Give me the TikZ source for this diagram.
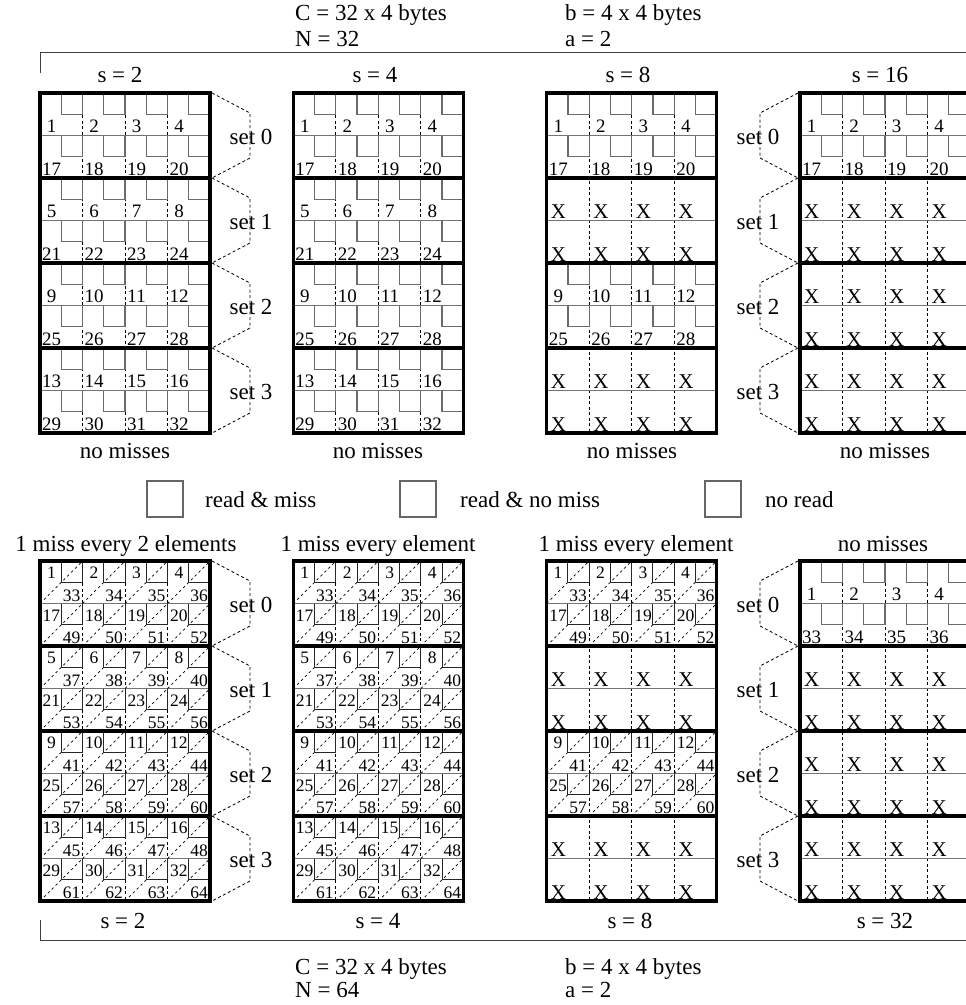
\documentclass[tikz,border=0pt]{standalone}
\usepackage{fontspec}
\setmainfont{Liberation Serif}
\newcount\nid
\newcommand\hitcell[3]{%
  \draw[sq] ({#1+21.25},#2) -- ({#1+21.25},{#2+21.25}) -- ({#1+42.5},{#2+21.25}) -- ({#1+42.5},#2);
  \global\advance\nid by 1
  \edef\nn{c\the\nid}%
  \node[num,anchor=base] (\nn) at ({#1+11.6},{#2+39.5}) {#3};}
\newcommand\hitset[4]{%
  \foreach \k in {0,...,3}{%
    \pgfmathsetmacro\hX{#1+42.5*\k}%
    \pgfmathtruncatemacro\hA{#3+\k}%
    \pgfmathtruncatemacro\hB{#4+\k}%
    \pgfmathsetmacro\hY{#2+42.5}%
    \hitcell{\hX}{#2}{\hA}%
    \hitcell{\hX}{\hY}{\hB}%
  }}
\newcommand\xnode[2]{%
  \global\advance\nid by 1
  \edef\nn{c\the\nid}%
  \node[xl,anchor=base west] (\nn) at (#1,#2) {X};}
\newcommand\xset[2]{%
  \foreach \k in {0,...,3}{%
    \pgfmathsetmacro\xX{#1+42.5*\k+4}%
    \pgfmathsetmacro\xA{#2+40.5}%
    \pgfmathsetmacro\xB{#2+83}%
    \xnode{\xX}{\xA}\xnode{\xX}{\xB}%
  }}
\newcommand\misscell[4]{%
  \draw[dgl] (#1,{#2+42.5}) -- ({#1+42.5},#2);
  \draw[msq] ({#1+21.25},#2) -- ({#1+21.25},{#2+21.25}) -- ({#1+42.5},{#2+21.25}) -- ({#1+42.5},#2);
  \global\advance\nid by 1
  \edef\nn{c\the\nid}%
  \node[snum,anchor=base] (\nn) at ({#1+11.4},{#2+17.5}) {#3};
  \global\advance\nid by 1
  \edef\nn{c\the\nid}%
  \node[snum,anchor=base] (\nn) at ({#1+31.5},{#2+40}) {#4};}
\newcommand\missset[4]{%
  \foreach \k in {0,...,3}{%
    \pgfmathsetmacro\mX{#1+42.5*\k}%
    \pgfmathtruncatemacro\mA{#3+\k}%
    \pgfmathtruncatemacro\mB{#3+\k+32}%
    \pgfmathtruncatemacro\mC{#4+\k}%
    \pgfmathtruncatemacro\mD{#4+\k+32}%
    \pgfmathsetmacro\mY{#2+42.5}%
    \misscell{\mX}{#2}{\mA}{\mB}%
    \misscell{\mX}{\mY}{\mC}{\mD}%
  }}
\newcommand\panelframe[2]{%
  \foreach \k in {1,2,3} \draw[dsh] ({#1+42.5*\k},#2) -- ({#1+42.5*\k},{#2+340});
  \foreach \j in {0,...,3} \draw[gry] (#1,{#2+42.5+85*\j}) -- ({#1+170},{#2+42.5+85*\j});}
\newcommand\panelborder[2]{%
  \foreach \j in {1,2,3} \draw[thk] (#1,{#2+85*\j}) -- ({#1+170},{#2+85*\j});
  \draw[thk] (#1,#2) rectangle ({#1+170},{#2+340});}
\newcommand\rbrk[3]{%
  \draw[dsh] ({#1+2},#2) -- ({#1+40},{#2+20}) -- ({#1+40},{#2+65}) -- ({#1+2},{#2+85});
  \global\advance\nid by 1
  \edef\nn{s\the\nid}%
  \node[lbl] (\nn) at ({#1+41},{#2+44}) {set #3};}
\newcommand\lbrk[3]{%
  \draw[dsh] ({#1-2},#2) -- ({#1-40},{#2+20}) -- ({#1-40},{#2+65}) -- ({#1-2},{#2+85});
  \global\advance\nid by 1
  \edef\nn{s\the\nid}%
  \node[lbl] (\nn) at ({#1-42},{#2+44}) {set #3};}
\begin{document}
\begin{tikzpicture}[x=1pt,y=-1pt,
  thk/.style={draw=black,line width=3.1pt},
  gry/.style={draw=black!55,line width=1.2pt},
  sq/.style={draw=black!58,line width=1.2pt},
  msq/.style={draw=black!85,line width=1pt},
  dsh/.style={draw=black,line width=0.8pt,dash pattern=on 3pt off 2.5pt},
  dgl/.style={draw=black,line width=0.7pt,dash pattern=on 2.5pt off 3pt},
  lbl/.style={font=\fontsize{23}{27}\selectfont,inner sep=0pt},
  num/.style={font=\fontsize{19}{21}\selectfont,inner sep=0pt},
  snum/.style={font=\fontsize{17.5}{19}\selectfont,inner sep=0pt},
  xl/.style={font=\fontsize{21}{23}\selectfont,inner sep=0pt},
  rulel/.style={draw=black!75,line width=0.9pt},
  legsq/.style={draw=black!60,line width=1.1pt,minimum size=36pt,inner sep=0pt}]
\useasboundingbox (0,0) rectangle (966,1005);
\clip (0,0) rectangle (966,1005);

% ---------- top headers ----------
\node[lbl,anchor=base west] (hC) at (295,20) {C = 32 x 4 bytes};
\node[lbl,anchor=base west] (hN) at (295,46) {N = 32};
\node[lbl,anchor=base west] (hb) at (565,20) {b = 4 x 4 bytes};
\node[lbl,anchor=base west] (ha) at (565,46) {a = 2};
\coordinate (t1) at (40,73);
\coordinate (t2) at (40,52);
\coordinate (t3) at (970,52);
\draw[rulel] (t1) -- (t2) -- (t3);
\node[lbl,anchor=base] (ts1) at (120,82) {s = 2};
\node[lbl,anchor=base] (ts2) at (375,82) {s = 4};
\node[lbl,anchor=base] (ts3) at (628,82) {s = 8};
\node[lbl,anchor=base] (ts4) at (880,82) {s = 16};

% ---------- top panels ----------
\foreach \px in {40,293.3}{
  \panelframe{\px}{93}
  \foreach \j in {0,...,3}{
    \pgfmathsetmacro\sy{93+85*\j}
    \pgfmathtruncatemacro\sa{4*\j+1}
    \pgfmathtruncatemacro\sb{4*\j+17}
    \hitset{\px}{\sy}{\sa}{\sb}}
  \panelborder{\px}{93}}
\panelframe{546.7}{93}
\hitset{546.7}{93}{1}{17}
\xset{546.7}{178}
\hitset{546.7}{263}{9}{25}
\xset{546.7}{348}
\panelborder{546.7}{93}
\panelframe{800}{93}
\hitset{800}{93}{1}{17}
\xset{800}{178}
\xset{800}{263}
\xset{800}{348}
\panelborder{800}{93}
\foreach \j in {0,...,3}{
  \pgfmathsetmacro\sy{93+85*\j}
  \rbrk{210}{\sy}{\j}
  \lbrk{800}{\sy}{\j}}
\node[lbl,anchor=base] (nm1) at (125,458) {no misses};
\node[lbl,anchor=base] (nm2) at (378,458) {no misses};
\node[lbl,anchor=base] (nm3) at (632,458) {no misses};
\node[lbl,anchor=base] (nm4) at (885,458) {no misses};

% ---------- legend ----------
\node[legsq] (lg1) at (165,499) {};
\node[lbl,anchor=base west] (lt1) at (205,507) {read \& miss};
\node[legsq] (lg2) at (418,499) {};
\node[lbl,anchor=base west] (lt2) at (460,507) {read \& no miss};
\node[legsq] (lg3) at (723,499) {};
\node[lbl,anchor=base west] (lt3) at (765,507) {no read};

% ---------- bottom panels ----------
\node[lbl,anchor=base] (bt1) at (126,551) {1 miss every 2 elements};
\node[lbl,anchor=base] (bt2) at (378,551) {1 miss every element};
\node[lbl,anchor=base] (bt3) at (636,551) {1 miss every element};
\node[lbl,anchor=base] (bt4) at (883,551) {no misses};
\foreach \px in {40,293.3}{
  \panelframe{\px}{561}
  \foreach \j in {0,...,3}{
    \pgfmathsetmacro\sy{561+85*\j}
    \pgfmathtruncatemacro\sa{4*\j+1}
    \pgfmathtruncatemacro\sb{4*\j+17}
    \missset{\px}{\sy}{\sa}{\sb}}
  \panelborder{\px}{561}}
\panelframe{546.7}{561}
\missset{546.7}{561}{1}{17}
\xset{546.7}{646}
\missset{546.7}{731}{9}{25}
\xset{546.7}{816}
\panelborder{546.7}{561}
\panelframe{800}{561}
\hitset{800}{561}{1}{33}
\xset{800}{646}
\xset{800}{731}
\xset{800}{816}
\panelborder{800}{561}
\foreach \j in {0,...,3}{
  \pgfmathsetmacro\sy{561+85*\j}
  \rbrk{210}{\sy}{\j}
  \lbrk{800}{\sy}{\j}}

% ---------- bottom headers ----------
\node[lbl,anchor=base] (bs1) at (123,928) {s = 2};
\node[lbl,anchor=base] (bs2) at (378,928) {s = 4};
\node[lbl,anchor=base] (bs3) at (630,928) {s = 8};
\node[lbl,anchor=base] (bs4) at (885,928) {s = 32};
\coordinate (b1) at (40,920);
\coordinate (b2) at (40,940);
\coordinate (b3) at (970,940);
\draw[rulel] (b1) -- (b2) -- (b3);
\node[lbl,anchor=base west] (fC) at (295,974) {C = 32 x 4 bytes};
\node[lbl,anchor=base west] (fN) at (295,997) {N = 64};
\node[lbl,anchor=base west] (fb) at (565,974) {b = 4 x 4 bytes};
\node[lbl,anchor=base west] (fa) at (565,997) {a = 2};
\end{tikzpicture}
\end{document}
